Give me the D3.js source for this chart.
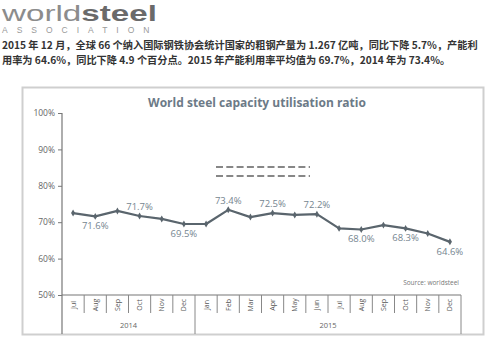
<!DOCTYPE html>
<html>
<head>
<meta charset="utf-8">
<script src="https://cdn.jsdelivr.net/npm/d3@7"></script>
<style>
  html, body { margin: 0; padding: 0; background: #fff; }
  svg { display: block; }
</style>
</head>
<body>
<svg id="chart" width="500" height="340"></svg>
<script>
// Monthly capacity utilisation, Jul 2014 – Dec 2015
const months = ["Jul","Aug","Sep","Oct","Nov","Dec","Jan","Feb","Mar","Apr","May","Jun","Jul","Aug","Sep","Oct","Nov","Dec"];
const years = ["2014","2015"];
const monthsPerYear = [6, 12];
const utilisation = [72.5, 71.6, 73.1, 71.7, 70.9, 69.5, 69.5, 73.4, 71.4, 72.5, 72.0, 72.2, 68.3, 68.0, 69.2, 68.3, 66.9, 64.6];
// which months carry a value label, and on which side of the line
const labelled = [1, 3, 5, 7, 9, 11, 13, 15, 17];
const labelAbove = [false, true, false, true, true, true, false, false, false];
const yTicks = [50, 60, 70, 80, 90, 100];

const headline = [
  "2015 年 12 月，全球 66 个纳入国际钢铁协会统计国家的粗钢产量为 1.267 亿吨，同比下降 5.7%，产能利",
  "用率为 64.6%，同比下降 4.9 个百分点。2015 年产能利用率平均值为 69.7%，2014 年为 73.4%。"
];

const svg = d3.select("#chart");
const cjk = "'Noto Sans CJK SC', 'Noto Sans', sans-serif";
const sans = "'Open Sans', 'Noto Sans', 'DejaVu Sans', sans-serif";
const logoFont = "'Liberation Sans', Arial, sans-serif";

// --- masthead ---
const logoG = svg.append("g");
const logo = logoG.append("text").attr("x", 0).attr("y", 0)
  .attr("font-family", logoFont).attr("font-size", 22);
logo.append("tspan").text("world").attr("fill", "#8c8c8c").attr("font-weight", 400);
logo.append("tspan").text("steel").attr("fill", "#6a6a6a").attr("font-weight", 700);
const logoW = logo.node().getComputedTextLength();
logoG.attr("transform", `translate(2,20.5) scale(${155 / logoW},1)`);

svg.append("text").attr("x", 2).attr("y", 33)
  .attr("font-family", logoFont).attr("font-size", 8.5)
  .attr("letter-spacing", 9).attr("fill", "#9a9a9a").text("ASSOCIATION");

svg.selectAll("text.headline").data(headline).join("text")
  .attr("class", "headline")
  .attr("x", 2).attr("y", (d, i) => 49 + i * 15)
  .attr("font-family", cjk).attr("font-size", 10.2).attr("font-weight", 700)
  .attr("fill", "#333").text(d => d);

// --- chart frame ---
svg.append("rect").attr("x", 22.5).attr("y", 87.5).attr("width", 461).attr("height", 247)
  .attr("fill", "#fff").attr("stroke", "#cfcfcf").attr("stroke-width", 2);

svg.append("text").attr("x", 257).attr("y", 107).attr("text-anchor", "middle")
  .attr("font-family", sans).attr("font-size", 12).attr("font-weight", 700)
  .attr("fill", "#6c7a87").text("World steel capacity utilisation ratio");

// --- scales ---
const x = d3.scaleBand().domain(d3.range(months.length)).range([62, 461]).paddingInner(0);
const y = d3.scaleLinear().domain([50, 100]).range([295, 113]);

// y axis
const yAxis = svg.append("g").attr("transform", "translate(62,0)")
  .call(d3.axisLeft(y).tickValues(yTicks).tickSize(4).tickPadding(3).tickFormat(d => d + "%"));
yAxis.select(".domain").remove();
yAxis.selectAll(".tick line").attr("stroke", "#777");
yAxis.selectAll(".tick text").attr("font-family", sans).attr("font-size", 8.5).attr("fill", "#666");
svg.append("line").attr("x1", 62).attr("x2", 62).attr("y1", 113).attr("y2", 334)
  .attr("stroke", "#777").attr("stroke-width", 1.2);

// x axis baseline and month cells
svg.append("line").attr("x1", 62).attr("x2", x.range()[1]).attr("y1", y(50)).attr("y2", y(50))
  .attr("stroke", "#777").attr("stroke-width", 1.2);

const yearEnds = d3.cumsum(monthsPerYear);
svg.selectAll("line.cell").data(d3.range(1, months.length + 1)).join("line")
  .attr("class", "cell")
  .attr("x1", i => x(i - 1) + x.bandwidth()).attr("x2", i => x(i - 1) + x.bandwidth())
  .attr("y1", y(50))
  .attr("y2", i => yearEnds.includes(i) ? 334 : 313)
  .attr("stroke", "#888").attr("stroke-width", 1);

svg.selectAll("text.month").data(months).join("text")
  .attr("class", "month")
  .attr("transform", (d, i) => `translate(${x(i) + x.bandwidth() / 2 + 2.5},305) rotate(-90)`)
  .attr("text-anchor", "middle")
  .attr("font-family", sans).attr("font-size", 7).attr("fill", "#555").text(d => d);

svg.selectAll("text.year").data(years).join("text")
  .attr("class", "year")
  .attr("x", (d, i) => {
    const start = i === 0 ? 0 : yearEnds[i - 1];
    return (x(start) + x(yearEnds[i] - 1) + x.bandwidth()) / 2;
  })
  .attr("y", 328).attr("text-anchor", "middle")
  .attr("font-family", sans).attr("font-size", 7.5).attr("fill", "#666").text(d => d);

svg.append("text").attr("x", 459).attr("y", 285).attr("text-anchor", "end")
  .attr("font-family", sans).attr("font-size", 6.5).attr("fill", "#777")
  .text("Source: worldsteel");

// --- series ---
const cx = i => x(i) + x.bandwidth() / 2;
const line = d3.line().x((d, i) => cx(i)).y(d => y(d));
svg.append("path").datum(utilisation).attr("d", line)
  .attr("fill", "none").attr("stroke", "#5a656d").attr("stroke-width", 2.2)
  .attr("stroke-linejoin", "round");

svg.selectAll("path.marker").data(utilisation).join("path")
  .attr("class", "marker")
  .attr("transform", (d, i) => `translate(${cx(i)},${y(d)})`)
  .attr("d", d3.symbol(d3.symbolDiamond, 14))
  .attr("fill", "#5a656d");

svg.selectAll("text.value").data(labelled).join("text")
  .attr("class", "value")
  .attr("x", i => cx(i))
  .attr("y", (i, k) => labelAbove[k] ? y(utilisation[i]) - 6 : y(utilisation[i]) + 13)
  .attr("text-anchor", "middle")
  .attr("font-family", sans).attr("font-size", 9.5).attr("fill", "#75858f")
  .text(i => utilisation[i].toFixed(1) + "%");

// dashed rules across the upper plot area
svg.selectAll("line.dash").data([167, 176]).join("line")
  .attr("class", "dash")
  .attr("x1", 216).attr("x2", 310).attr("y1", d => d).attr("y2", d => d)
  .attr("stroke", "#111").attr("stroke-width", 1.2).attr("stroke-dasharray", "7,3.3");
</script>
</body>
</html>
